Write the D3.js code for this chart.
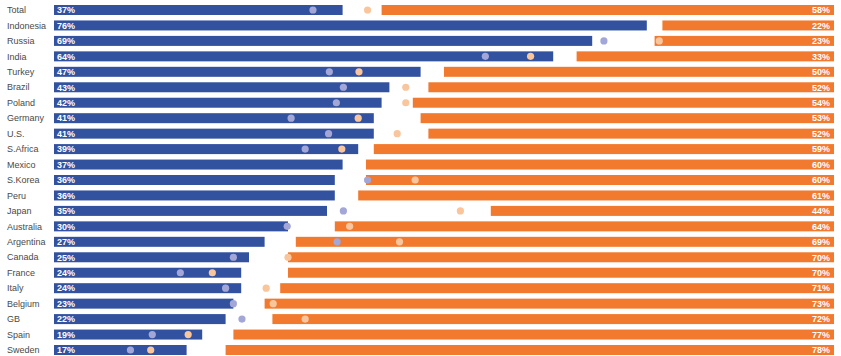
<!DOCTYPE html>
<html>
<head>
<meta charset="utf-8">
<script src="https://cdn.jsdelivr.net/npm/d3@7"></script>
<style>
  html, body { margin: 0; padding: 0; background: #fff; }
  svg { display: block; font-family: "Liberation Sans", Arial, sans-serif; }
</style>
</head>
<body>
<svg id="chart" width="841" height="356"></svg>
<script>
// Country rows, top to bottom
const countries = ["Total", "Indonesia", "Russia", "India", "Turkey", "Brazil", "Poland", "Germany", "U.S.", "S.Africa", "Mexico", "S.Korea", "Peru", "Japan", "Australia", "Argentina", "Canada", "France", "Italy", "Belgium", "GB", "Spain", "Sweden"];
// Current shares (%)
const blueValues = [37, 76, 69, 64, 47, 43, 42, 41, 41, 39, 37, 36, 36, 35, 30, 27, 25, 24, 24, 23, 22, 19, 17];
const orangeValues = [58, 22, 23, 33, 50, 52, 54, 53, 52, 59, 60, 60, 61, 44, 64, 69, 70, 70, 71, 73, 72, 77, 78];
// Earlier shares (%), null where not available
const bluePrev = [33.2, null, 70.5, 55.3, 35.3, 37.1, 36.2, 30.4, 35.2, 32.2, null, 40.2, null, 37.1, 29.9, 36.3, 23, 16.2, 22, 23, 24.1, 12.6, 9.8];
const orangePrev = [59.8, null, 22.4, 38.9, 60.9, 54.9, 54.9, 61, 56, 63.1, null, 53.7, null, 47.9, 62.1, 55.7, 70, 79.7, 72.8, 71.9, 67.8, 82.8, 87.6];

const svg = d3.select("#chart");
const blue = "#3252a0", orange = "#f27a2e";
const blueDot = "#a3a7d8", orangeDot = "#f9c59c";

const x = d3.scaleLinear().domain([0, 100]).range([54, 834]);
const y = d3.scaleBand().domain(countries).range([5, 355]).paddingInner(0.353).paddingOuter(0);
const bw = y.bandwidth();

const rows = svg.selectAll("g.row").data(countries.map((c, i) => ({
  c, b: blueValues[i], o: orangeValues[i], bp: bluePrev[i], op: orangePrev[i]
}))).join("g").attr("class", "row");

// Country names
rows.append("text")
  .attr("x", 7)
  .attr("y", d => y(d.c) + bw / 2)
  .attr("dy", "0.35em")
  .attr("font-size", 9)
  .attr("fill", "#4a4a4a")
  .text(d => d.c);

// Blue bars from the left
rows.append("rect")
  .attr("x", x(0))
  .attr("y", d => y(d.c))
  .attr("width", d => x(d.b) - x(0))
  .attr("height", bw)
  .attr("fill", blue);

// Orange bars from the right
rows.append("rect")
  .attr("x", d => x(100 - d.o))
  .attr("y", d => y(d.c))
  .attr("width", d => x(100) - x(100 - d.o))
  .attr("height", bw)
  .attr("fill", orange);

// Earlier values as dots
rows.filter(d => d.bp != null).append("circle")
  .attr("cx", d => x(d.bp))
  .attr("cy", d => y(d.c) + bw / 2)
  .attr("r", 3.6)
  .attr("fill", blueDot);

rows.filter(d => d.op != null).append("circle")
  .attr("cx", d => x(100 - d.op))
  .attr("cy", d => y(d.c) + bw / 2)
  .attr("r", 3.6)
  .attr("fill", orangeDot);

// Value labels inside bars
rows.append("text")
  .attr("x", x(0) + 3)
  .attr("y", d => y(d.c) + bw / 2)
  .attr("dy", "0.36em")
  .attr("font-size", 9)
  .attr("font-weight", "bold")
  .attr("fill", "#fff")
  .text(d => d.b + "%");

rows.append("text")
  .attr("x", x(100) - 4)
  .attr("y", d => y(d.c) + bw / 2)
  .attr("dy", "0.36em")
  .attr("text-anchor", "end")
  .attr("font-size", 9)
  .attr("font-weight", "bold")
  .attr("fill", "#fff")
  .text(d => d.o + "%");
</script>
</body>
</html>
